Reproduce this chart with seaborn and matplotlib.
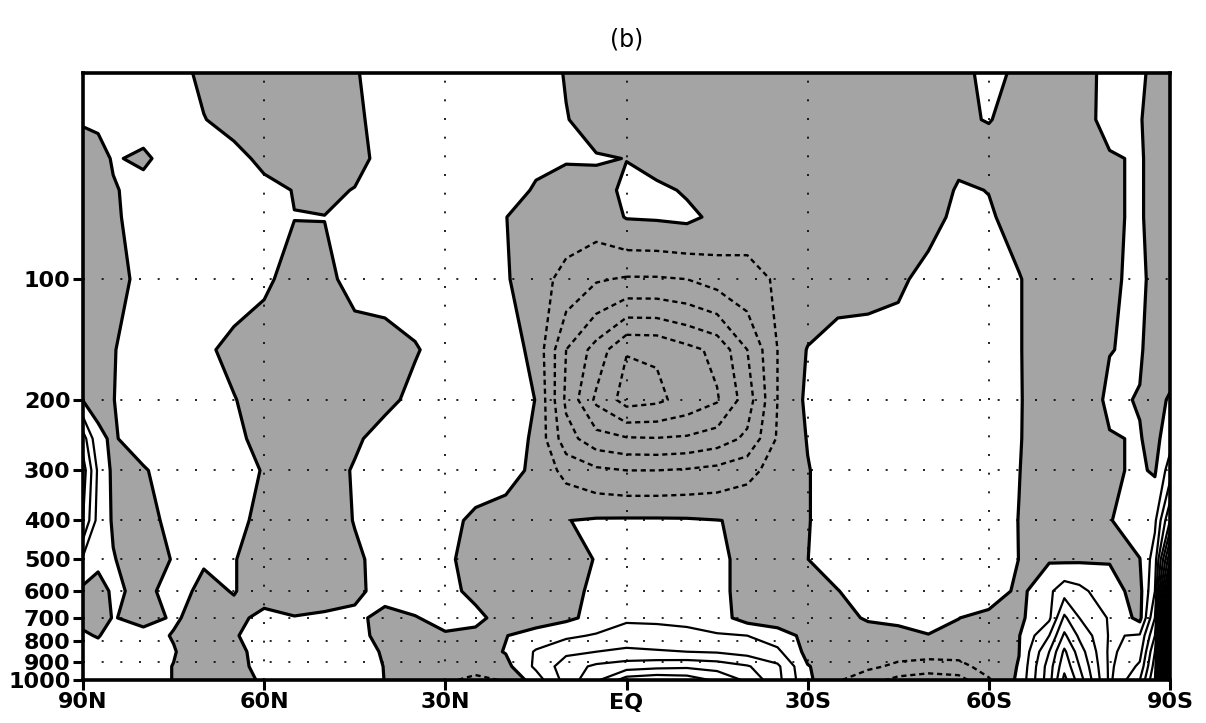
import numpy as np
import seaborn as sns
import matplotlib
matplotlib.use("Agg")
import matplotlib.pyplot as plt
from matplotlib.ticker import NullLocator

# latitude columns (deg, north positive) and pressure rows (hPa)
lats = [90, 87.5, 85, 80, 75, 70, 65, 60, 55, 50, 45, 40, 35, 30, 25, 20, 15, 10, 5, 0,
        -5, -10, -15, -20, -25, -30, -35, -40, -45, -50, -55, -60, -65, -70, -72.5, -75, -80, -85, -87.5, -90]
levels_hpa = [30, 40, 50, 60, 70, 100, 150, 200, 250, 300, 400, 500, 600, 700, 775, 850, 925, 1000]

# field, one row per pressure level
# first line of each row: 90N..EQ, second line: 5S..90S
anomaly = [
    [0.5, 0.5, 0.5, 0.5, 0.48, -0.32, -0.6, -0.6, -0.6, -0.5, -0.1, 0.6, 0.6, 0.6, 0.6, 0.6, 0.7, -0.1, -0.5, -0.6,
     -0.6, -0.6, -0.6, -0.6, -0.6, -0.6, -0.6, -0.6, -0.6, -0.5, -0.4, 0.4, -0.22, -0.5, -0.5, -0.4, 0.3, 0.15, -0.2, -0.5],
    [0.1, 0.2, 0.4, 0.5, 0.5, 0.05, -0.5, -0.6, -0.6, -0.6, -0.3, 0.58, 0.6, 0.6, 0.6, 0.6, 0.6, 0.06, -0.54, -0.6,
     -0.6, -0.6, -0.6, -0.6, -0.6, -0.6, -0.6, -0.6, -0.6, -0.6, -0.15, 0.05, -0.4, -0.5, -0.5, -0.4, 0.34, 0.05, -0.3, -0.5],
    [-0.5, -0.4, 0.1, -0.2, 0.5, 0.5, 0.45, -0.35, -0.6, -0.6, -0.4, 0.4, 0.6, 0.6, 0.6, 0.6, 0.2, 0.08, 0.1, -0.02,
     -0.4, -0.5, -0.6, -0.6, -0.6, -0.6, -0.6, -0.6, -0.6, -0.6, -0.2, -0.5, -0.6, -0.6, -0.6, -0.5, -0.1, 0.1, -0.3, -0.5],
    [-0.5, -0.45, -0.1, 0.4, 0.5, 0.5, 0.5, 0.4, -0.05, -0.25, 0.05, 0.5, 0.6, 0.6, 0.6, 0.4, -0.1, -0.4, -0.4, 0.2,
     0.2, -0.1, -0.6, -0.6, -0.6, -0.6, -0.6, -0.6, -0.6, -0.5, 0.1, -0.02, -0.5, -0.6, -0.6, -0.5, -0.1, 0.1, -0.3, -0.5],
    [-0.5, -0.45, -0.15, 0.4, 0.5, 0.5, 0.5, 0.4, 0.02, 0.02, 0.4, 0.5, 0.6, 0.6, 0.5, 0.02, -0.5, -0.5, -0.5, 0.05,
     0.1, 0.2, -0.2, -0.6, -0.6, -0.6, -0.6, -0.6, -0.6, -0.35, 0.25, 0.1, -0.32, -0.6, -0.6, -0.5, -0.1, 0.1, -0.3, -0.5],
    [-0.5, -0.5, -0.3, 0.24, 0.5, 0.5, 0.5, 0.2, -0.4, -0.3, 0.4, 0.5, 0.5, 0.5, 0.5, 0.1, -0.6, -1.3, -1.9, -2.1,
     -2.1, -2.0, -1.6, -1.3, -0.9, -0.7, -0.5, -0.4, -0.2, 0.35, 0.5, 0.4, 0.05, -0.5, -0.5, -0.5, -0.1, 0.15, -0.2, -0.5],
    [-0.5, -0.4, -0.05, 0.5, 0.5, 0.2, -0.3, -0.6, -0.6, -0.6, -0.6, -0.5, -0.08, 0.4, 0.5, 0.5, -0.3, -3.0, -4.4, -5.95,
     -5.9, -5.3, -4.75, -3.0, -1.0, 0.05, 0.5, 0.5, 0.5, 0.5, 0.5, 0.5, 0.05, -0.5, -0.5, -0.5, -0.02, 0.1, -0.4, -0.5],
    [-0.05, -0.2, -0.02, 0.5, 0.5, 0.5, 0.05, -0.5, -0.6, -0.6, -0.6, -0.3, 0.3, 0.5, 0.5, 0.48, -0.02, -3.2, -5.2, -6.4,
     -6.2, -5.66, -5.1, -3.5, -1.0, 0.2, 0.5, 0.5, 0.5, 0.5, 0.5, 0.5, 0.06, -0.5, -0.5, -0.5, 0.15, -0.05, -0.3, 0.1],
    [2.5, 0.15, -0.1, 0.5, 0.5, 0.5, 0.25, -0.35, -0.6, -0.6, -0.2, 0.5, 0.5, 0.5, 0.5, 0.6, -0.2, -2.6, -3.6, -3.9,
     -3.95, -3.85, -3.5, -2.8, -0.9, 0.05, 0.5, 0.5, 0.5, 0.5, 0.5, 0.5, 0.05, -0.5, -0.5, -0.5, -0.05, 0.05, -0.3, 0.6],
    [3.5, 0.8, -0.2, -0.1, 0.5, 0.5, 0.5, -0.08, -0.6, -0.6, 0.12, 0.5, 0.5, 0.5, 0.5, 0.5, -0.3, -1.3, -1.8, -2.0,
     -2.0, -1.9, -1.7, -1.3, -0.6, -0.05, 0.5, 0.5, 0.5, 0.5, 0.5, 0.5, 0.02, -0.5, -0.5, -0.5, -0.1, 0.1, -0.1, 1.5],
    [3.0, 0.6, -0.1, -0.5, 0.4, 0.5, 0.3, -0.3, -0.6, -0.6, 0.05, 0.5, 0.5, 0.3, -0.2, -0.6, -0.5, -0.02, 0.1, 0.12,
     0.12, 0.1, 0.02, -0.1, -0.5, -0.05, 0.5, 0.5, 0.5, 0.5, 0.5, 0.5, -0.02, -0.5, -0.5, -0.5, -0.05, 0.5, 0.8, 4.0],
    [0.8, 0.3, 0.05, -0.5, 0.06, 0.1, 0.05, -0.5, -0.6, -0.6, -0.2, 0.4, 0.5, 0.2, -0.4, -0.6, -0.6, -0.4, 0.05, 0.3,
     0.3, 0.3, 0.15, -0.2, -0.5, -0.01, 0.5, 0.5, 0.5, 0.5, 0.5, 0.5, -0.01, -0.1, -0.18, -0.14, -0.05, -0.02, 1.5, 8.0],
    [-0.2, -0.5, 0.2, -0.3, 0.4, -0.25, 0.05, -0.5, -0.6, -0.6, -0.3, 0.5, 0.5, 0.35, -0.3, -0.6, -0.6, -0.3, 0.2, 0.4,
     0.4, 0.4, 0.15, -0.2, -0.6, -0.5, -0.03, 0.5, 0.5, 0.5, 0.5, 0.8, -0.3, 0.8, 1.6, 1.3, 0.3, -0.3, 2.0, 12.0],
    [-0.2, -0.4, 0.05, -0.3, 0.1, -0.3, -0.3, 0.3, 0.05, 0.2, 0.3, -0.4, -0.05, 0.3, 0.3, -0.5, -0.5, -0.2, 0.3, 0.85,
     0.85, 0.8, 0.4, -0.4, -0.6, -0.6, -0.3, 0.1, 0.15, 0.2, 0.02, -0.4, -0.2, 0.8, 3.2, 2.0, 0.9, -0.3, 3.0, 14.0],
    [0.1, -0.05, 0.3, 0.3, -0.05, -0.5, -0.1, 0.5, 0.5, 0.5, 0.3, -0.3, -0.5, -0.1, -0.3, -0.03, 0.4, 0.8, 1.1, 1.4,
     1.3, 1.2, 1.1, 1.0, 0.5, -0.3, -0.5, -0.4, -0.2, -0.02, -0.3, -0.5, -0.05, 2.0, 4.2, 2.8, 0.9, 1.1, 4.0, 15.0],
    [0.3, 0.3, 0.3, 0.3, 0.05, -0.5, -0.3, 0.4, 0.5, 0.5, 0.4, -0.1, -0.6, -0.6, -0.4, 0.05, 1.1, 1.8, 2.0, 2.2,
     2.1, 2.0, 1.9, 1.6, 1.2, -0.3, -0.5, -0.6, -0.6, -0.6, -0.6, -0.5, -0.02, 3.0, 5.2, 3.5, 0.8, 1.6, 5.0, 17.0],
    [0.3, 0.3, 0.3, 0.3, -0.02, -0.5, -0.3, 0.3, 0.5, 0.5, 0.3, -0.02, -0.6, -0.7, -0.5, -0.3, 1.2, 2.5, 3.2, 3.5,
     3.7, 3.8, 3.6, 3.1, 2.2, 0.05, -0.5, -0.8, -1.2, -1.4, -1.3, -0.6, 0.05, 3.5, 5.7, 4.0, 0.8, 2.2, 5.5, 19.0],
    [0.3, 0.3, 0.3, 0.3, -0.02, -0.5, -0.4, 0.15, 0.5, 0.5, 0.3, -0.01, -0.6, -0.8, -1.3, -0.9, 0.5, 2.4, 3.8, 5.5,
     5.8, 5.6, 4.8, 3.8, 2.3, 0.2, -0.9, -1.6, -2.3, -2.6, -2.4, -1.1, 0.2, 3.6, 6.3, 4.5, 0.8, 3.0, 6.0, 20.0],
]

xtick_pos = [90, 60, 30, 0, -30, -60, -90]
xtick_labels = ['90N', '60N', '30N', 'EQ', '30S', '60S', '90S']
ytick_pos = [100, 200, 300, 400, 500, 600, 700, 800, 900, 1000]
ytick_labels = ['100', '200', '300', '400', '500', '600', '700', '800', '900', '1000']

sns.set_theme(style="white")
plt.rcParams['font.family'] = ['DejaVu Sans']
plt.rcParams['lines.dashed_pattern'] = [2.2, 1.6]

x = np.array(lats)
y = np.array(levels_hpa)
z = np.array(anomaly)

fig = plt.figure(figsize=(12.06, 7.23), dpi=100)
ax = fig.add_axes([83 / 1206, 1 - 680 / 723, (1170 - 83) / 1206, (680 - 73) / 723])

# shade negative values, dashed negative, thick zero line, solid positive
ax.contourf(x, y, z, levels=[-100, 0], colors=['#a4a4a4'])
ax.contour(x, y, z, levels=np.arange(-7, 0), colors='black', linewidths=1.7, linestyles='dashed')
ax.contour(x, y, z, levels=np.arange(1, 21), colors='black', linewidths=1.6, linestyles='solid')
ax.contour(x, y, z, levels=[0], colors='black', linewidths=2.3, linestyles='solid')

ax.set_yscale('log')
ax.set_ylim(1000, 30.6)
ax.set_xlim(90, -90)

ax.set_xticks(xtick_pos)
ax.set_xticklabels(xtick_labels, fontweight='bold', fontsize=16, color='black')
ax.set_yticks(ytick_pos)
ax.set_yticklabels(ytick_labels, fontweight='bold', fontsize=16, color='black')
ax.yaxis.set_minor_locator(NullLocator())
ax.tick_params(axis='both', which='major', direction='out', length=7, width=2.2,
               color='black', labelcolor='black', pad=2, bottom=True, left=True)

ax.grid(True, which='major', color='black', linestyle=(0, (1.2, 10)), linewidth=1.2)
ax.set_axisbelow(False)

for side in ax.spines.values():
    side.set_linewidth(2.6)
    side.set_color('black')

fig.text(627 / 1206, 1 - 40 / 723, '(b)', ha='center', va='center', fontsize=17, color='black')

fig.savefig('out.png', dpi=100)
